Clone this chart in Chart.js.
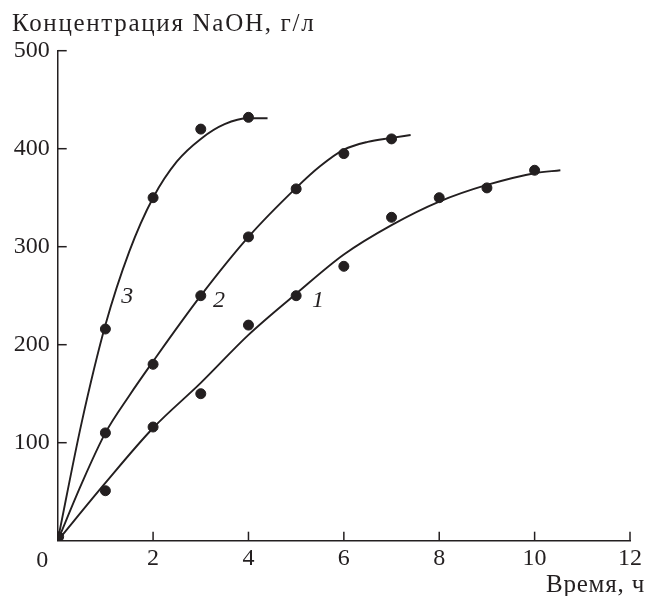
<!DOCTYPE html>
<html>
<head>
<meta charset="utf-8">
<script src="https://cdn.jsdelivr.net/npm/chart.js@4"></script>
<style>
html,body{margin:0;padding:0;background:#fff;}
#wrap{width:646px;height:596px;position:relative;}
</style>
</head>
<body>
<div id="wrap"><canvas id="c" width="646" height="596"></canvas></div>
<script>
// ---- data ----
const xTicks = [0, 2, 4, 6, 8, 10, 12];
const yTicks = [100, 200, 300, 400, 500];

// measured points (time h, NaOH g/l)
const pts1X = [0.02, 1, 2, 3, 4, 5, 6, 7, 8, 9, 10];
const pts1Y = [4, 51, 116, 150, 220, 250, 280, 330, 350, 360, 378];
const pts2X = [1, 2, 3, 4, 5, 6, 7];
const pts2Y = [110, 180, 250, 310, 359, 395, 410];
const pts3X = [1, 2, 3, 4];
const pts3Y = [216, 350, 420, 432];

// smooth fitted curves
const curve1X = [0, 1, 2, 3, 4, 5, 6, 7, 8, 9, 10, 10.54];
const curve1Y = [0, 59, 115, 161, 210, 252, 292, 322, 346, 363, 375, 378];
const curve2X = [0, 0.5, 1, 1.5, 2, 3, 4, 5, 5.5, 6, 6.5, 7, 7.4];
const curve2Y = [0, 58, 110, 148, 183, 250, 310, 360, 382, 399, 407, 411, 414];
const curve3X = [0, 0.5, 1, 1.5, 2, 2.5, 3, 3.5, 4, 4.4];
const curve3Y = [0, 120, 220, 295, 350, 387, 410, 425, 431, 431];

// curve numbers
const curveLabels = ["1", "2", "3"];
const labelX = [5.46, 3.38, 1.46];
const labelY = [245, 245, 249];

const yTitle = "Концентрация NaOH, г/л";
const xTitle = "Время, ч";
const originLabel = "0";

// ---- build ----
const INK = '#231f20';
const FONT = '"Liberation Serif", "Times New Roman", serif';
const zip = (xs, ys) => xs.map((x, i) => ({x: x, y: ys[i]}));

function lineDs(xs, ys) {
  return {type: 'line', data: zip(xs, ys), borderColor: INK, borderWidth: 1.9,
    pointRadius: 0, fill: false, cubicInterpolationMode: 'monotone', order: 2};
}
function ptDs(xs, ys) {
  return {type: 'scatter', data: zip(xs, ys), backgroundColor: INK, borderColor: INK,
    pointRadius: 5, pointHoverRadius: 5, showLine: false, order: 1};
}

const decor = {
  id: 'decor',
  afterDraw(chart) {
    const ctx = chart.ctx, xs = chart.scales.x, ys = chart.scales.y, a = chart.chartArea;
    ctx.save();
    ctx.strokeStyle = INK; ctx.lineWidth = 1.5;
    // inward ticks
    xTicks.forEach(v => { if (v === 0) return; const p = xs.getPixelForValue(v);
      ctx.beginPath(); ctx.moveTo(p, a.bottom); ctx.lineTo(p, a.bottom - 9); ctx.stroke(); });
    yTicks.forEach(v => { const p = ys.getPixelForValue(v);
      ctx.beginPath(); ctx.moveTo(a.left, p); ctx.lineTo(a.left + 9, p); ctx.stroke(); });
    ctx.fillStyle = INK;
    // origin label
    ctx.font = '24px ' + FONT;
    ctx.textAlign = 'center'; ctx.textBaseline = 'alphabetic';
    ctx.fillText(originLabel, a.left - 15.5, a.bottom + 26);
    // axis titles
    ctx.font = '25px ' + FONT;
    ctx.textAlign = 'left';
    ctx.letterSpacing = '1.7px';
    ctx.fillText(yTitle, 12, 31);
    ctx.letterSpacing = '0.8px';
    ctx.textAlign = 'right';
    ctx.fillText(xTitle, 645, 591.5);
    ctx.letterSpacing = '0px';
    // curve numbers
    ctx.font = 'italic 24px ' + FONT;
    ctx.textAlign = 'center'; ctx.textBaseline = 'middle';
    curveLabels.forEach((t, i) => ctx.fillText(t, xs.getPixelForValue(labelX[i]), ys.getPixelForValue(labelY[i])));
    ctx.restore();
  }
};

new Chart(document.getElementById('c'), {
  data: {
    datasets: [
      lineDs(curve1X, curve1Y), lineDs(curve2X, curve2Y), lineDs(curve3X, curve3Y),
      ptDs(pts1X, pts1Y), ptDs(pts2X, pts2Y), ptDs(pts3X, pts3Y)
    ]
  },
  options: {
    responsive: false, animation: false,
    layout: {padding: {top: 50.7, right: 14, left: 0, bottom: 0}},
    plugins: {legend: {display: false}, tooltip: {enabled: false}},
    scales: {
      x: {
        type: 'linear', min: 0, max: 12,
        afterFit: s => { s.height = 55.3; },
        afterBuildTicks: s => { s.ticks = xTicks.map(v => ({value: v})); },
        grid: {display: true, drawOnChartArea: false, drawTicks: false},
        border: {display: true, color: INK, width: 1.5},
        ticks: {color: INK, padding: 4, font: {family: FONT, size: 24},
          callback: v => (v === 0 ? '' : String(v)), maxRotation: 0}
      },
      y: {
        type: 'linear', min: 0, max: 500,
        afterFit: s => { s.width = 57.7; },
        afterBuildTicks: s => { s.ticks = yTicks.map(v => ({value: v})); },
        grid: {display: true, drawOnChartArea: false, drawTicks: false},
        border: {display: true, color: INK, width: 1.5},
        ticks: {color: INK, padding: 8, font: {family: FONT, size: 24}}
      }
    }
  },
  plugins: [decor]
});
</script>
</body>
</html>
